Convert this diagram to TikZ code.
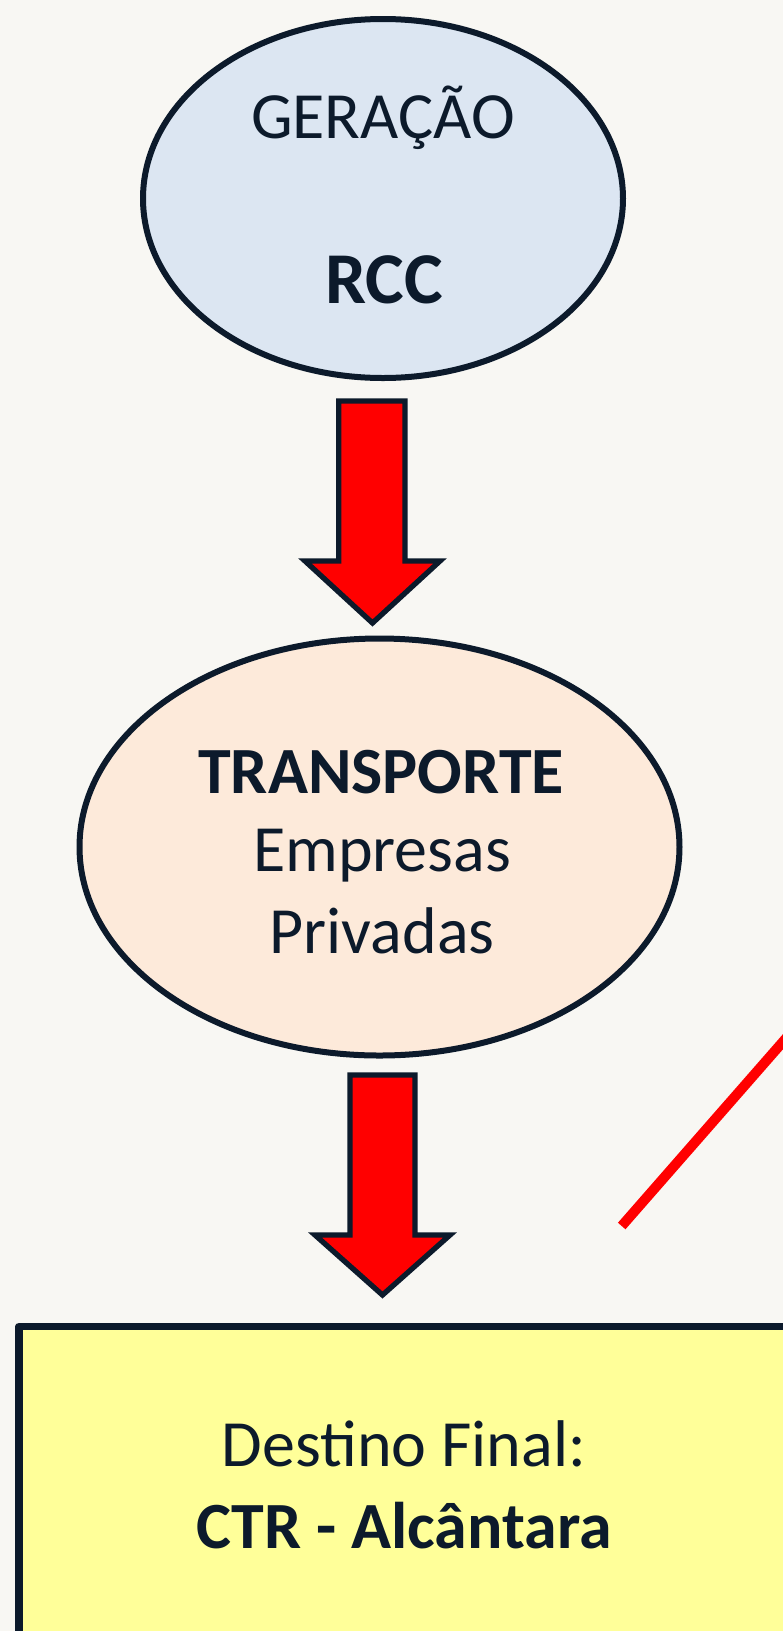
\documentclass[tikz,border=0pt]{standalone}
\usepackage{fontspec}
\setmainfont{Carlito}
\usetikzlibrary{shapes.geometric}
\definecolor{bg}{HTML}{F8F7F3}
\definecolor{ink}{HTML}{0C1A2B}
\definecolor{blueish}{HTML}{DCE6F2}
\definecolor{peach}{HTML}{FDEADA}
\definecolor{yel}{HTML}{FFFF99}
\definecolor{redarrow}{HTML}{FF0000}
\begin{document}
\begin{tikzpicture}[x=1pt,y=-1pt,
  ell/.style={ellipse, draw=ink, line width=6pt, inner sep=0pt},
  txt/.style={text=ink, font=\fontsize{66}{80}\selectfont, inner sep=0pt, anchor=base},
  btxt/.style={txt, font=\fontsize{66}{80}\selectfont\bfseries},
  blockarrow/.style={fill=redarrow, draw=ink, line width=5.3pt, line join=miter},
  boxstyle/.style={fill=yel, draw=ink, line width=7.5pt, line join=round}]
\useasboundingbox (0,0) rectangle (783,1631);
\fill[bg] (0,0) rectangle (783,1631);
\clip (0,0) rectangle (783,1631);

% nodes
\node[ell, fill=blueish, minimum width=480, minimum height=359] (gen) at (383,198.5) {};
\node[txt] (genA) at (383,138.5) {GERAÇÃO};
\node[btxt, font=\fontsize{73}{80}\selectfont\bfseries] (genB) at (384,303.5) {RCC};

\node[ell, fill=peach, minimum width=600, minimum height=417] (tra) at (379.5,847) {};
\node[btxt] (traA) at (381,793.5) {TRANSPORTE};
\node[txt] (traB) at (382,871.5) {Empresas};
\node[txt] (traC) at (382,953.5) {Privadas};

\draw[boxstyle] (18.9,1326.5) rectangle (800,1660);
\node[txt] (destA) at (404,1466) {Destino Final:};
\node[btxt] (destB) at (404,1548) {CTR - Alcântara};

% block arrows
\draw[blockarrow] (338.7,401) -- (405,401) -- (405,561) -- (440,561) -- (372.5,623) -- (305,561) -- (338.7,561) -- cycle;
\draw[blockarrow] (350,1075) -- (415,1075) -- (415,1235) -- (450,1235) -- (382.5,1295) -- (315,1235) -- (350,1235) -- cycle;

% red line
\coordinate (ra) at (621.7,1226);
\coordinate (rb) at (863.5,949.7);
\draw[redarrow, line width=10pt] (ra) -- (rb);
\end{tikzpicture}
\end{document}
